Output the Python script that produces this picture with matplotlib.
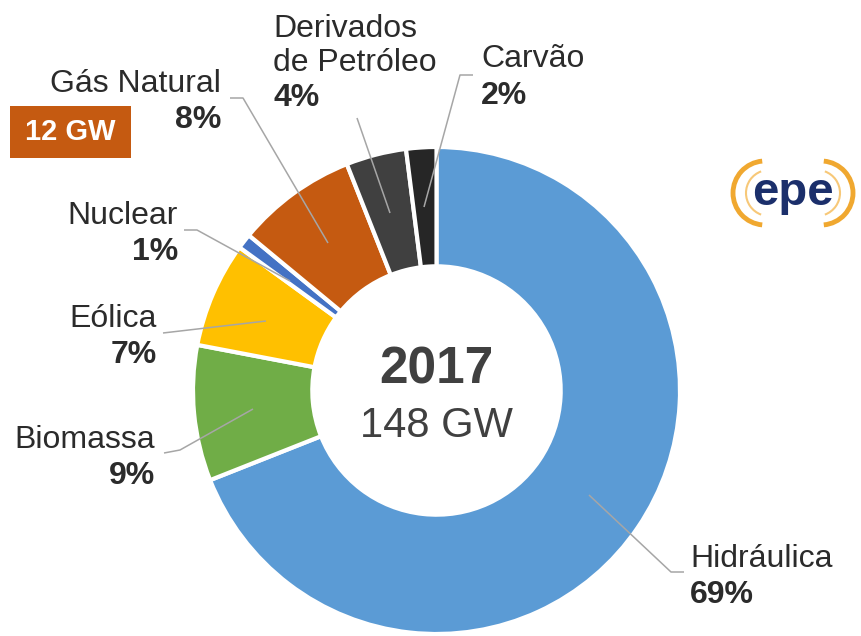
import matplotlib
matplotlib.use("Agg")
import matplotlib.pyplot as plt
from matplotlib.patches import Arc, Rectangle

plt.rcParams['font.family'] = ['Liberation Sans', 'DejaVu Sans']

# dados: matriz eletrica 2017 (clockwise from top)
fontes = ['Hidráulica', 'Biomassa', 'Eólica', 'Nuclear', 'Gás Natural',
          'Derivados\nde Petróleo', 'Carvão']
percentuais = [69, 9, 7, 1, 8, 4, 2]
cores = ['#5B9BD5', '#70AD47', '#FFC000', '#4472C4', '#C55A11', '#404040', '#262626']
ano = '2017'
total = '148 GW'
destaque = '12 GW'

W, H = 861, 636
fig = plt.figure(figsize=(W / 100, H / 100), dpi=100)
ax = fig.add_axes([0, 0, 1, 1])

R = 243.5
cx, cy = 436.5, 390.5
ax.pie(percentuais, colors=cores, startangle=90, counterclock=False,
       radius=R, center=(cx, H - cy),
       wedgeprops=dict(width=R * 0.49, edgecolor='white', linewidth=3))
ax.set_xlim(0, W)
ax.set_ylim(0, H)
ax.axis('off')

txt = '#2B2B2B'
gray = '#A6A6A6'
fs = 23

def leader(pts):
    ax.plot([p[0] for p in pts], [H - p[1] for p in pts], color=gray, lw=1.1,
            solid_capstyle='butt')

def label(x, y_nome, y_pct, nome, pct, ha):
    ax.text(x, H - y_nome, nome, ha=ha, va='baseline', fontsize=fs, color=txt)
    ax.text(x, H - y_pct, f'{pct}%', ha=ha, va='baseline', fontsize=fs,
            color=txt, fontweight='bold')

# Hidráulica
leader([(589, 495), (671, 572), (684, 572)])
label(690, 567, 603, fontes[0], percentuais[0], 'left')
# Biomassa
leader([(253, 409), (180, 450), (164, 453)])
label(155, 448, 484, fontes[1], percentuais[1], 'right')
# Eólica
leader([(266, 321), (163, 333)])
label(157, 327, 363, fontes[2], percentuais[2], 'right')
# Nuclear
leader([(290, 281), (197, 230), (184, 230)])
label(178, 224, 260, fontes[3], percentuais[3], 'right')
# Gás Natural
leader([(328, 243), (243, 98), (230, 98)])
label(221, 92, 128, fontes[4], percentuais[4], 'right')
# Derivados de Petróleo
leader([(390, 213), (357, 118)])
label(273, 37, 106, fontes[5].split('\n')[0], percentuais[5], 'left')
ax.text(273, H - 71, fontes[5].split('\n')[1], ha='left', va='baseline',
        fontsize=fs, color=txt)
# Carvão
leader([(424, 207), (460, 75), (473, 75)])
label(481, 67, 104, fontes[6], percentuais[6], 'left')

# centro
ax.text(cx, H - 383, ano, ha='center', va='baseline', fontsize=37,
        fontweight='bold', color='#404040')
ax.text(cx, H - 437, total, ha='center', va='baseline', fontsize=30,
        color='#404040')

# caixa 12 GW
ax.add_patch(Rectangle((10, H - 158), 121, 52, color='#C55A11', lw=0))
ax.text(70.5, H - 132, destaque, ha='center', va='center', fontsize=21,
        fontweight='bold', color='white')

# logo epe
lx, ly = 793, H - 193
ax.text(lx, ly, 'epe', ha='center', va='center', fontsize=34,
        fontweight='bold', color='#1B2F6B')
ax.add_patch(Arc((lx - 28, ly), 64, 64, theta1=95, theta2=265,
                 color='#F0A830', lw=3.5))
ax.add_patch(Arc((lx - 24, ly), 46, 46, theta1=110, theta2=250,
                 color='#F7C878', lw=1.5))
ax.add_patch(Arc((lx + 28, ly), 64, 64, theta1=-85, theta2=85,
                 color='#F0A830', lw=3.5))
ax.add_patch(Arc((lx + 24, ly), 46, 46, theta1=-70, theta2=70,
                 color='#F7C878', lw=1.5))

fig.savefig('out.png', dpi=100)
